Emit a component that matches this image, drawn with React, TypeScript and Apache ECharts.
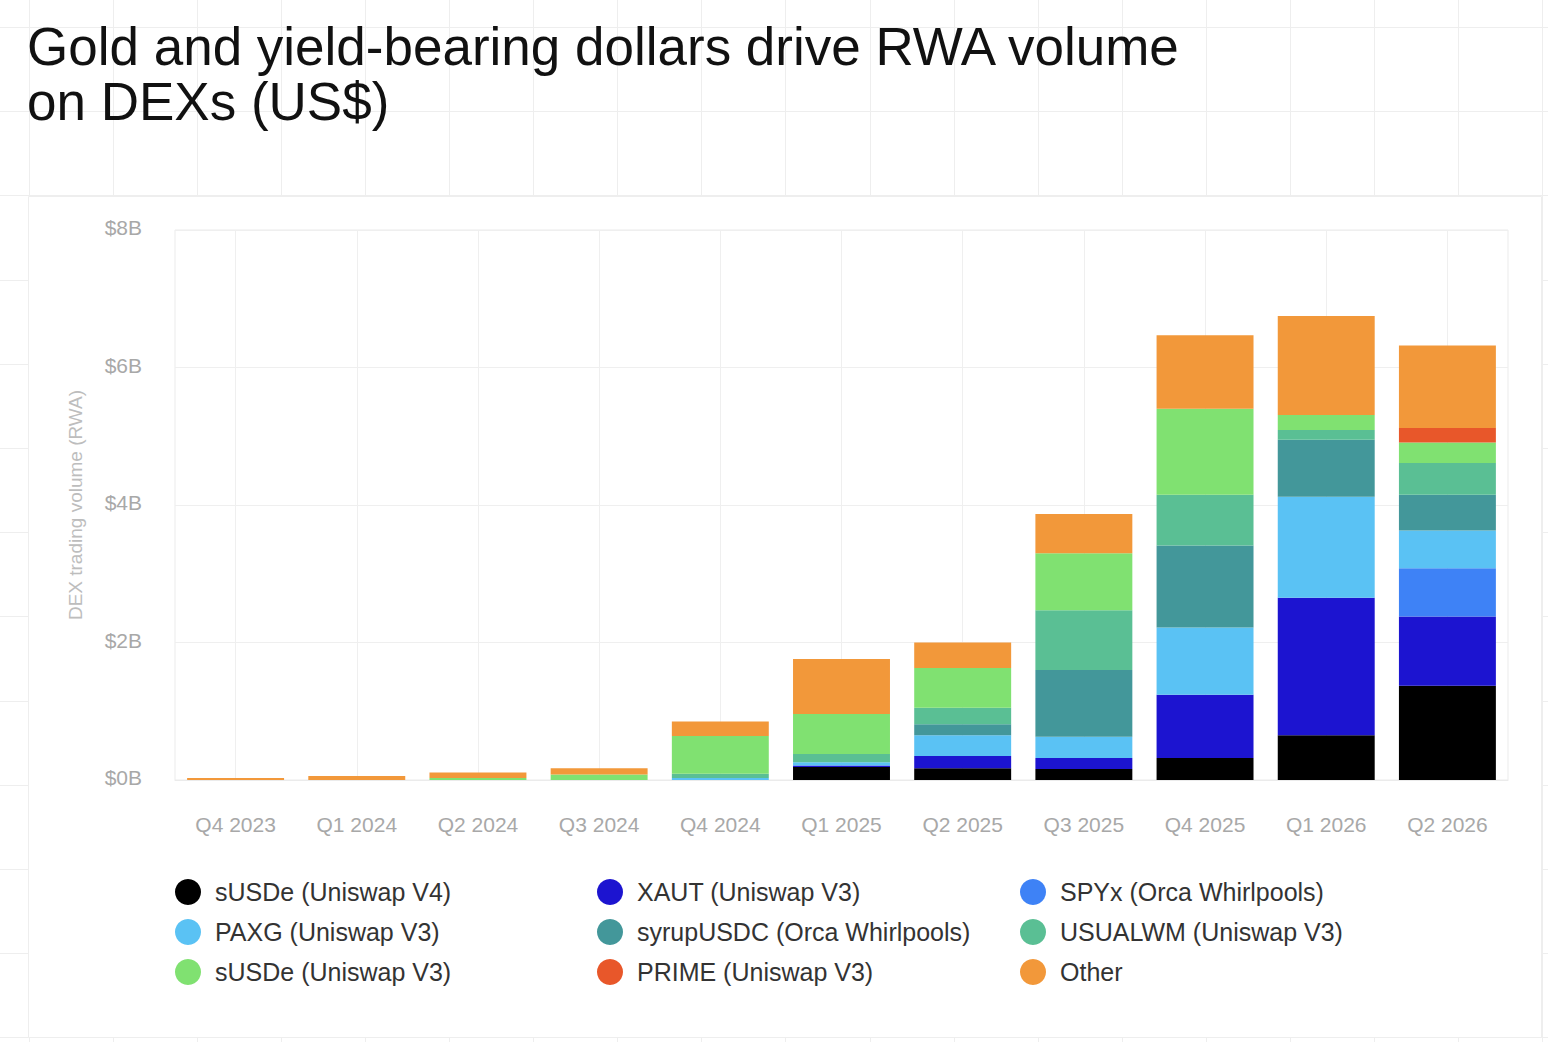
import React, { useEffect, useRef } from 'react';
import * as echarts from 'echarts';

const categories = ['Q4 2023', 'Q1 2024', 'Q2 2024', 'Q3 2024', 'Q4 2024', 'Q1 2025', 'Q2 2025', 'Q3 2025', 'Q4 2025', 'Q1 2026', 'Q2 2026'];

const seriesNames = [
  'sUSDe (Uniswap V4)',
  'XAUT (Uniswap V3)',
  'SPYx (Orca Whirlpools)',
  'PAXG (Uniswap V3)',
  'syrupUSDC (Orca Whirlpools)',
  'USUALWM (Uniswap V3)',
  'sUSDe (Uniswap V3)',
  'PRIME (Uniswap V3)',
  'Other',
];

const seriesColors = ['#000000', '#1c14d0', '#3e82f6', '#5ac2f4', '#43979a', '#5abf94', '#80e171', '#e8572a', '#f2983a'];

// values in US$ billions
const susdeV4 = [0, 0, 0, 0, 0, 0.19, 0.17, 0.16, 0.32, 0.65, 1.37];
const xaut = [0, 0, 0, 0, 0, 0.02, 0.18, 0.16, 0.92, 2.0, 1.01];
const spyx = [0, 0, 0, 0, 0, 0, 0, 0, 0, 0, 0.7];
const paxg = [0, 0, 0, 0, 0.03, 0.05, 0.3, 0.31, 0.98, 1.47, 0.55];
const syrupUsdc = [0, 0, 0, 0, 0, 0, 0.16, 0.97, 1.19, 0.83, 0.52];
const usualwm = [0, 0, 0, 0, 0.06, 0.12, 0.24, 0.87, 0.74, 0.14, 0.46];
const susdeV3 = [0, 0, 0.03, 0.08, 0.55, 0.58, 0.58, 0.83, 1.25, 0.22, 0.3];
const prime = [0, 0, 0, 0, 0, 0, 0, 0, 0, 0, 0.21];
const other = [0.03, 0.06, 0.08, 0.09, 0.21, 0.8, 0.37, 0.57, 1.07, 1.44, 1.2];

const seriesValues = [susdeV4, xaut, spyx, paxg, syrupUsdc, usualwm, susdeV3, prime, other];

const yMin = 0;
const yMax = 8;
const yInterval = 2;

const legendColumns = [
  ['sUSDe (Uniswap V4)', 'PAXG (Uniswap V3)', 'sUSDe (Uniswap V3)'],
  ['XAUT (Uniswap V3)', 'syrupUSDC (Orca Whirlpools)', 'PRIME (Uniswap V3)'],
  ['SPYx (Orca Whirlpools)', 'USUALWM (Uniswap V3)', 'Other'],
];

const FONT = "'Liberation Sans', Arial, Helvetica, sans-serif";
const W = 1548;
const H = 1042;

function buildBackground() {
  const els: any[] = [];
  const gridColor = '#eeeeee';
  const step = 84.1;
  for (let k = 0; k < 19; k++) {
    const x = Math.round(28.5 + step * k) + 0.5;
    els.push({ type: 'line', silent: true, z: -3, shape: { x1: x, y1: 0, x2: x, y2: H }, style: { stroke: gridColor, lineWidth: 1 } });
  }
  for (let k = 0; k < 13; k++) {
    const y = Math.round(27 + 84.2 * k) + 0.5;
    els.push({ type: 'line', silent: true, z: -3, shape: { x1: 0, y1: y, x2: W, y2: y }, style: { stroke: gridColor, lineWidth: 1 } });
  }
  els.push({
    type: 'rect', silent: true, z: -2,
    shape: { x: 28.5, y: 196.5, width: 1513, height: 841 },
    style: { fill: '#ffffff', stroke: gridColor, lineWidth: 1 },
  });
  return els;
}

export default function App() {
  const ref = useRef<HTMLDivElement>(null);
  useEffect(() => {
    if (!ref.current) return;
    const chart = echarts.init(ref.current, undefined, { renderer: 'svg' });
    const option: any = {
      animation: false,
      backgroundColor: '#ffffff',
      textStyle: { fontFamily: FONT },
      graphic: buildBackground(),
      title: {
        text: 'Gold and yield-bearing dollars drive RWA volume\non DEXs (US$)',
        left: 27,
        top: 19,
        padding: 0,
        textStyle: { fontFamily: FONT, fontSize: 53, fontWeight: 'normal', color: '#111111', lineHeight: 55 },
      },
      legend: legendColumns.map((col, i) => ({
        data: col,
        orient: 'vertical',
        left: [175, 597, 1020][i],
        top: 879,
        padding: 0,
        itemGap: 14,
        itemWidth: 44,
        itemHeight: 26,
        icon: 'circle',
        selectedMode: false,
        textStyle: { fontFamily: FONT, fontSize: 25, color: '#333333' },
      })),
      grid: {
        left: 175,
        right: 40,
        top: 230,
        bottom: 262,
        show: true,
        borderColor: '#ebebeb',
        borderWidth: 1,
        backgroundColor: 'transparent',
      },
      xAxis: {
        type: 'category',
        data: categories,
        axisLine: { show: true, lineStyle: { color: '#ebebeb' } },
        axisTick: { show: false },
        axisLabel: { color: '#a8a8a8', fontSize: 21, margin: 34, fontFamily: FONT },
        splitLine: { show: true, alignWithLabel: true, lineStyle: { color: '#efefef', width: 1 } },
      },
      yAxis: {
        type: 'value',
        min: yMin,
        max: yMax,
        interval: yInterval,
        name: 'DEX trading volume (RWA)',
        nameLocation: 'middle',
        nameRotate: 90,
        nameGap: 90,
        nameTextStyle: { color: '#bdbdbd', fontSize: 19, fontFamily: FONT },
        axisLine: { show: false },
        axisTick: { show: false },
        axisLabel: { color: '#a8a8a8', fontSize: 21, margin: 33, fontFamily: FONT, verticalAlign: 'bottom', lineHeight: 5, formatter: (v: number) => '$' + v + 'B' },
        splitLine: { show: true, lineStyle: { color: '#efefef', width: 1 } },
      },
      series: seriesNames.map((name, i) => ({
        name,
        type: 'bar',
        stack: 'total',
        barCategoryGap: '20%',
        data: seriesValues[i],
        itemStyle: { color: seriesColors[i] },
        emphasis: { disabled: true },
      })),
    };
    chart.setOption(option);
    return () => chart.dispose();
  }, []);
  return <div ref={ref} style={{ position: 'fixed', left: 0, top: 0, width: W, height: H }} />;
}
